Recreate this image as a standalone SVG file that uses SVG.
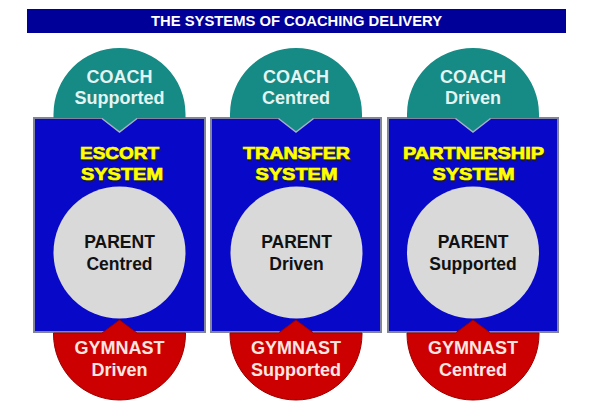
<svg xmlns="http://www.w3.org/2000/svg" width="593" height="420" viewBox="0 0 593 420">
<style>
.bar{fill:#000099}
.title{font-family:"Liberation Sans",Arial,sans-serif;font-weight:bold;font-size:14px;fill:#ffffff;text-anchor:middle}
.box{fill:#0808c8;stroke:#80849c;stroke-width:2}
.coach{fill:#168a84}
.gym{fill:#cc0000;stroke:#9a0000;stroke-width:1}
.notch{fill:none;stroke:#a8b0c8;stroke-width:1.5}
.disc{fill:#d9d9d9}
.lbl{font-family:"Liberation Sans",Arial,sans-serif;font-weight:bold;font-size:18px;text-anchor:middle}
.lc{fill:#e4f4f2}
.lg{fill:#ffe6e0}
.lp{fill:#111111;font-size:17.5px}
.sys{font-family:"Liberation Sans",Arial,sans-serif;font-weight:bold;font-size:17px;text-anchor:middle;fill:#ffff00;stroke:#ffff00;stroke-width:0.7}
.sysh{font-family:"Liberation Sans",Arial,sans-serif;font-weight:bold;font-size:17px;text-anchor:middle;fill:#1a1a40;stroke:#1a1a40;stroke-width:0.7}
</style>
<rect width="593" height="420" fill="#ffffff"/>
<g id="title">
<rect class="bar" x="27" y="9" width="539" height="24"/>
<text class="title" x="296.5" y="26" textLength="291" lengthAdjust="spacingAndGlyphs">THE SYSTEMS OF COACHING DELIVERY</text>
</g>

<g id="escort-system">
<rect class="box" x="34" y="118" width="171" height="214"/>
<text class="sysh" x="121" y="160.5" textLength="79" lengthAdjust="spacingAndGlyphs">ESCORT</text>
<text class="sys" x="119.5" y="159" textLength="79" lengthAdjust="spacingAndGlyphs">ESCORT</text>
<text class="sysh" x="123.5" y="181.5" textLength="82" lengthAdjust="spacingAndGlyphs">SYSTEM</text>
<text class="sys" x="122" y="180" textLength="82" lengthAdjust="spacingAndGlyphs">SYSTEM</text>
</g>
<g id="transfer-system">
<rect class="box" x="211" y="118" width="170" height="214"/>
<text class="sysh" x="298" y="160.5" textLength="107" lengthAdjust="spacingAndGlyphs">TRANSFER</text>
<text class="sys" x="296.5" y="159" textLength="107" lengthAdjust="spacingAndGlyphs">TRANSFER</text>
<text class="sysh" x="298" y="181.5" textLength="82" lengthAdjust="spacingAndGlyphs">SYSTEM</text>
<text class="sys" x="296.5" y="180" textLength="82" lengthAdjust="spacingAndGlyphs">SYSTEM</text>
</g>
<g id="partnership-system">
<rect class="box" x="388" y="118" width="170" height="214"/>
<text class="sysh" x="475" y="160.5" textLength="141" lengthAdjust="spacingAndGlyphs">PARTNERSHIP</text>
<text class="sys" x="473.5" y="159" textLength="141" lengthAdjust="spacingAndGlyphs">PARTNERSHIP</text>
<text class="sysh" x="475" y="181.5" textLength="82" lengthAdjust="spacingAndGlyphs">SYSTEM</text>
<text class="sys" x="473.5" y="180" textLength="82" lengthAdjust="spacingAndGlyphs">SYSTEM</text>
</g>

<g id="coach-supported">
<path class="coach" d="M53.5,118 L53.5,114 A66,66 0 0 1 185.5,114 L185.5,118 L137,118 L119.5,132 L102,118 Z"/>
<path class="notch" d="M102,118.5 L119.5,132 L137,118.5"/>
<text class="lbl lc" x="119.5" y="83">COACH</text>
<text class="lbl lc" x="119.5" y="104">Supported</text>
</g>
<g id="coach-centred">
<path class="coach" d="M230,118 L230,114 A66,66 0 0 1 362,114 L362,118 L313.5,118 L296,132 L278.5,118 Z"/>
<path class="notch" d="M278.5,118.5 L296,132 L313.5,118.5"/>
<text class="lbl lc" x="296" y="83">COACH</text>
<text class="lbl lc" x="296" y="104">Centred</text>
</g>
<g id="coach-driven">
<path class="coach" d="M407,118 L407,114 A66,66 0 0 1 539,114 L539,118 L490.5,118 L473,132 L455.5,118 Z"/>
<path class="notch" d="M455.5,118.5 L473,132 L490.5,118.5"/>
<text class="lbl lc" x="473" y="83">COACH</text>
<text class="lbl lc" x="473" y="104">Driven</text>
</g>

<g id="parent-centred">
<circle class="disc" cx="119.5" cy="252.5" r="66"/>
<text class="lbl lp" x="119.5" y="248">PARENT</text>
<text class="lbl lp" x="119.5" y="270">Centred</text>
</g>
<g id="parent-driven">
<circle class="disc" cx="296.5" cy="252.5" r="66"/>
<text class="lbl lp" x="296.5" y="248">PARENT</text>
<text class="lbl lp" x="296.5" y="270">Driven</text>
</g>
<g id="parent-supported">
<circle class="disc" cx="473" cy="252.5" r="66"/>
<text class="lbl lp" x="473" y="248">PARENT</text>
<text class="lbl lp" x="473" y="270">Supported</text>
</g>

<g id="gymnast-driven">
<path class="gym" d="M53.5,333 L102,333 L119.5,320 L137,333 L185.5,333 L185.5,334 A66,66 0 0 1 53.5,334 Z"/>
<text class="lbl lg" x="119.5" y="354">GYMNAST</text>
<text class="lbl lg" x="119.5" y="376">Driven</text>
</g>
<g id="gymnast-supported">
<path class="gym" d="M230,333 L278.5,333 L296,320 L313.5,333 L362,333 L362,334 A66,66 0 0 1 230,334 Z"/>
<text class="lbl lg" x="296" y="354">GYMNAST</text>
<text class="lbl lg" x="296" y="376">Supported</text>
</g>
<g id="gymnast-centred">
<path class="gym" d="M407,333 L455.5,333 L473,320 L490.5,333 L539,333 L539,334 A66,66 0 0 1 407,334 Z"/>
<text class="lbl lg" x="473" y="354">GYMNAST</text>
<text class="lbl lg" x="473" y="376">Centred</text>
</g>
</svg>
